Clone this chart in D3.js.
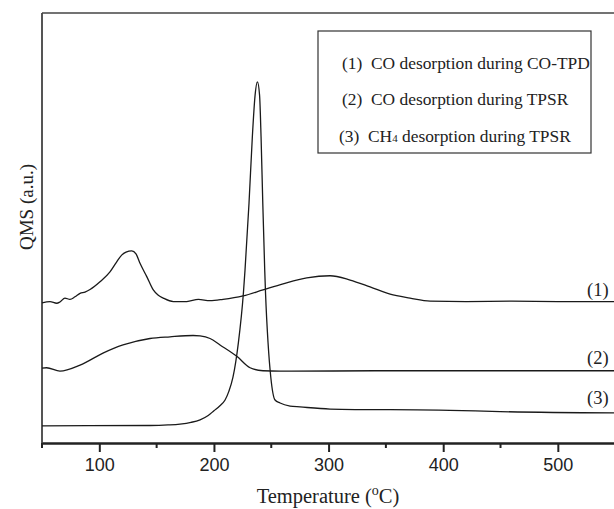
<!DOCTYPE html>
<html>
<head>
<meta charset="utf-8">
<script src="https://cdn.jsdelivr.net/npm/d3@7"></script>
<style>
  body { margin: 0; background: #fff; }
  svg { display: block; }
</style>
</head>
<body>
<script>
// temperature (C) and signal (a.u.)
var temp1 = [50, 57, 62.8, 65.7, 70, 74.4, 78.8, 83.2, 87.5, 91.9, 100.6, 109.3, 114.6, 119.5, 123.3, 128.3, 132, 135.5, 141.4, 147.1, 151.2, 155.8, 164.6, 176.3, 186.4, 196.6, 207.9, 225.4, 242.8, 260.3, 281, 301.3, 318.8, 336.2, 353.7, 371.1, 388.6, 420, 460, 500, 549];
var qms1 = [32.6, 32.9, 32.5, 32.8, 33.7, 33.4, 34.0, 34.8, 35.1, 35.7, 37.5, 39.8, 41.9, 43.7, 44.4, 44.7, 44.0, 41.8, 38.7, 35.6, 34.4, 33.7, 32.9, 32.9, 33.4, 33.1, 33.4, 34.2, 35.6, 37.0, 38.4, 38.9, 37.9, 36.3, 34.6, 33.7, 33.0, 32.9, 33.0, 32.9, 32.9];

var temp2 = [50, 54, 65.7, 83.2, 103.2, 120.7, 144.2, 161.7, 181.8, 187.9, 196.6, 205.3, 220.2, 231.5, 242.8, 257.7, 350, 450, 549];
var qms2 = [17.4, 17.5, 16.7, 18.1, 20.9, 22.8, 24.3, 24.7, 25.0, 24.9, 24.3, 22.8, 20.1, 17.5, 16.8, 16.7, 16.8, 16.8, 16.8];

var temp3 = [50, 144.2, 160, 170.4, 180, 187.9, 195, 200, 205, 209.7, 213, 216.6, 221.3, 225.7, 227.1, 230.6, 233.5, 235.9, 237.9, 239.8, 241.1, 242.6, 244.3, 245, 247.2, 249.6, 253.3, 257.7, 266.4, 275.1, 301.3, 406, 449.7, 549];
var qms3 = [4.0, 4.07, 4.2, 4.4, 4.8, 5.4, 6.4, 7.5, 8.6, 10.0, 12.0, 15.3, 23.3, 34.9, 40.2, 55.8, 71.2, 80.9, 84.0, 80.9, 71.2, 55.8, 40.2, 34.9, 23.3, 15.3, 10.0, 9.3, 8.6, 8.4, 7.9, 7.6, 7.3, 7.0];

var xTicks = [100, 200, 300, 400, 500];
var xMinor = [50, 150, 250, 350, 450, 550];
var legendLines = ["(1)  CO desorption during CO-TPD", "(2)  CO desorption during TPSR", "(3)  CH"];
var curveLabels = ["(1)", "(2)", "(3)"];

var width = 614, height = 509;
var svg = d3.select("body").append("svg")
  .attr("width", width)
  .attr("height", height);

var x = d3.scaleLinear().domain([50, 549]).range([42, 614]);
var y = d3.scaleLinear().domain([0, 100]).range([443, 13]);

// frame: left and top
svg.append("line")
  .attr("x1", 42).attr("x2", 42).attr("y1", 13).attr("y2", 443)
  .attr("stroke", "#555").attr("stroke-width", 2);
svg.append("line")
  .attr("x1", 42).attr("x2", 614).attr("y1", 13).attr("y2", 13)
  .attr("stroke", "#444").attr("stroke-width", 1.5);

// x axis
var xAxis = svg.append("g")
  .attr("transform", "translate(0,443)")
  .call(d3.axisBottom(x).tickValues(xTicks).tickSize(9).tickSizeOuter(0).tickPadding(6));
xAxis.select(".domain").attr("stroke", "#222").attr("stroke-width", 2.5);
xAxis.selectAll(".tick line").attr("stroke", "#222").attr("stroke-width", 2);
xAxis.selectAll(".tick text")
  .attr("font-family", "'Liberation Sans', Arial, sans-serif")
  .attr("font-size", 18)
  .attr("fill", "#222");

svg.selectAll("line.minor")
  .data(xMinor)
  .enter()
  .append("line")
  .attr("class", "minor")
  .attr("x1", function(d) { return x(d); })
  .attr("x2", function(d) { return x(d); })
  .attr("y1", 443).attr("y2", 448)
  .attr("stroke", "#222").attr("stroke-width", 2);

// curves
var line = d3.line()
  .x(function(d) { return x(d[0]); })
  .y(function(d) { return y(d[1]); })
  .curve(d3.curveMonotoneX);

[[temp1, qms1], [temp2, qms2], [temp3, qms3]].forEach(function(s) {
  svg.append("path")
    .datum(d3.zip(s[0], s[1]))
    .attr("d", line)
    .attr("fill", "none")
    .attr("stroke", "#1a1a1a")
    .attr("stroke-width", 1.3);
});

// curve labels at the right end
svg.selectAll("text.clabel")
  .data(curveLabels)
  .enter()
  .append("text")
  .attr("class", "clabel")
  .attr("x", 587)
  .attr("y", function(d, i) { return [296, 364, 404][i]; })
  .attr("font-family", "'Liberation Serif', 'Times New Roman', serif")
  .attr("font-size", 18.5)
  .attr("fill", "#222")
  .text(function(d) { return d; });

// legend box
svg.append("rect")
  .attr("x", 318).attr("y", 31).attr("width", 273).attr("height", 122)
  .attr("fill", "#fff").attr("stroke", "#333").attr("stroke-width", 1.2);

var legend = svg.selectAll("text.legend")
  .data(legendLines)
  .enter()
  .append("text")
  .attr("class", "legend")
  .attr("x", function(d, i) { return [342, 342, 339][i]; })
  .attr("y", function(d, i) { return [69, 105, 142][i]; })
  .attr("font-family", "'Liberation Serif', 'Times New Roman', serif")
  .attr("font-size", 17.4)
  .attr("fill", "#222")
  .attr("xml:space", "preserve")
  .style("white-space", "pre")
  .text(function(d) { return d; });

legend.filter(function(d, i) { return i === 2; })
  .append("tspan").attr("font-size", 11).text("4");
legend.filter(function(d, i) { return i === 2; })
  .append("tspan").text(" desorption during TPSR");

// axis titles
var xTitle = svg.append("text")
  .attr("x", 328).attr("y", 503)
  .attr("text-anchor", "middle")
  .attr("font-family", "'Liberation Serif', 'Times New Roman', serif")
  .attr("font-size", 20.5)
  .attr("fill", "#222")
  .text("Temperature (");
xTitle.append("tspan").attr("font-size", 14).attr("dy", -8).text("o");
xTitle.append("tspan").attr("dy", 8).text("C)");

svg.append("text")
  .attr("transform", "translate(33,207) rotate(-90)")
  .attr("text-anchor", "middle")
  .attr("font-family", "'Liberation Serif', 'Times New Roman', serif")
  .attr("font-size", 19)
  .attr("fill", "#222")
  .text("QMS (a.u.)");
</script>
</body>
</html>
